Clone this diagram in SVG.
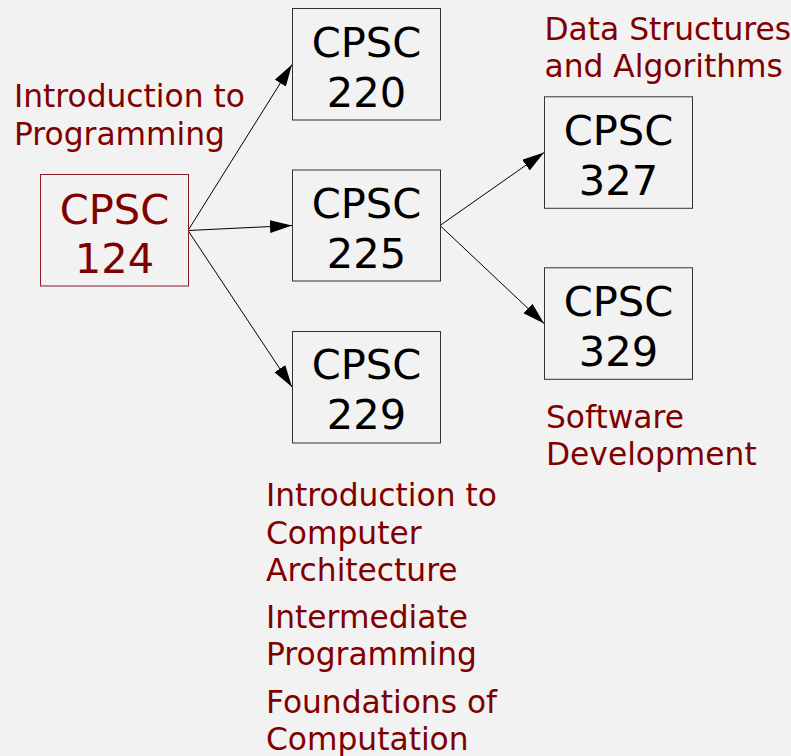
<svg xmlns="http://www.w3.org/2000/svg" width="791" height="756" viewBox="0 0 791 756">
<style>
.bg{fill:#f2f2f2}
.box{fill:#f2f2f2;stroke:#333;stroke-width:1}
.box.main{stroke:#8b1a2b}
.code{font-family:"DejaVu Sans",sans-serif;font-size:41.6px;fill:#000;text-anchor:middle}
.code.main{fill:#800000}
.lbl{font-family:"DejaVu Sans",sans-serif;font-size:31.3px;fill:#800000}
.edge{stroke:#000;stroke-width:1;fill:none;marker-end:url(#arr)}
</style>
<defs>
<marker id="arr" markerUnits="userSpaceOnUse" markerWidth="24" markerHeight="14" refX="22" refY="6.5" orient="auto">
<path d="M0,0 L22,6.5 L0,13 Z" fill="#000"/>
</marker>
</defs>
<rect class="bg" x="0" y="0" width="791" height="756"/>
<g id="edges">
<line class="edge" x1="188" y1="230.5" x2="292" y2="64.5"/>
<line class="edge" x1="188" y1="230.5" x2="292" y2="225.5"/>
<line class="edge" x1="188" y1="230.5" x2="292" y2="387"/>
<line class="edge" x1="440" y1="225.5" x2="544" y2="152.5"/>
<line class="edge" x1="440" y1="225.5" x2="544" y2="323.5"/>
</g>
<g id="n124">
<rect class="box main" x="40.5" y="174.5" width="148" height="111.5"/>
<text class="code main" x="114.5" y="224">CPSC</text>
<text class="code main" x="114.5" y="273">124</text>
<text class="lbl" x="14" y="107">Introduction to</text>
<text class="lbl" x="14" y="144.5">Programming</text>
</g>
<g id="n220">
<rect class="box" x="292.5" y="8.5" width="148" height="111.5"/>
<text class="code" x="366.5" y="57">CPSC</text>
<text class="code" x="366.5" y="106.5">220</text>
</g>
<g id="n225">
<rect class="box" x="292.5" y="170" width="148" height="111"/>
<text class="code" x="366.5" y="218">CPSC</text>
<text class="code" x="366.5" y="268">225</text>
</g>
<g id="n229">
<rect class="box" x="292.5" y="331.5" width="148" height="111.5"/>
<text class="code" x="366.5" y="379">CPSC</text>
<text class="code" x="366.5" y="429">229</text>
</g>
<g id="n327">
<rect class="box" x="544.5" y="96.8" width="148" height="111.5"/>
<text class="code" x="618.5" y="144.5">CPSC</text>
<text class="code" x="618.5" y="194.5">327</text>
<text class="lbl" x="544.5" y="40">Data Structures</text>
<text class="lbl" x="544.5" y="77">and Algorithms</text>
</g>
<g id="n329">
<rect class="box" x="544.5" y="267.8" width="148" height="111.5"/>
<text class="code" x="618.5" y="315.5">CPSC</text>
<text class="code" x="618.5" y="365.5">329</text>
<text class="lbl" x="546" y="428">Software</text>
<text class="lbl" x="546" y="465">Development</text>
</g>
<g id="labels">
<text class="lbl" x="266" y="506">Introduction to</text>
<text class="lbl" x="266" y="543.5">Computer</text>
<text class="lbl" x="266" y="580.5">Architecture</text>
<text class="lbl" x="266" y="627.5">Intermediate</text>
<text class="lbl" x="266" y="665">Programming</text>
<text class="lbl" x="266" y="712.5">Foundations of</text>
<text class="lbl" x="266" y="750">Computation</text>
</g>
</svg>
